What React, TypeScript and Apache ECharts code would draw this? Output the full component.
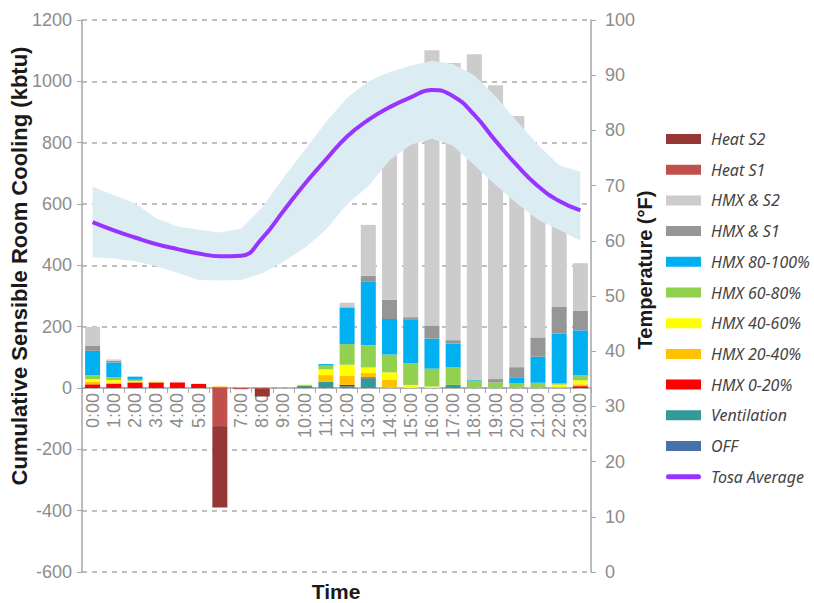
import React, { useEffect, useRef } from "react";
import * as echarts from "echarts";

const hours = [
  "0:00", "1:00", "2:00", "3:00", "4:00", "5:00", "6:00", "7:00",
  "8:00", "9:00", "10:00", "11:00", "12:00", "13:00", "14:00", "15:00",
  "16:00", "17:00", "18:00", "19:00", "20:00", "21:00", "22:00", "23:00",
];

const offVals = [0, 0, 0, 0, 0, 0, 0, 0, 0, 0, 0, 0, 0, 0, 0, 0, 0, 0, 0, 0, 0, 0, 0, 0];
const ventVals = [0, 0, 0, 0, 0, 0, 0, 0, 0, 0, 7, 20, 6, 32, 0, 0, 0, 10, 0, 0, 0, 0, 0, 0];
const hmx0Vals = [12, 13, 18, 18, 18, 13, 2, 0, 0, 0, 0, 0, 4, 3, 0, 0, 0, 0, 0, 0, 0, 0, 0, 6];
const hmx20Vals = [8, 5, 2, 2, 0, 1, 3, 0, 0, 0, 3, 22, 30, 14, 26, 0, 0, 0, 0, 0, 0, 0, 3, 6];
const hmx40Vals = [9, 8, 3, 0, 0, 0, 0, 0, 0, 0, 1, 19, 36, 18, 25, 10, 5, 0, 0, 0, 0, 0, 8, 13];
const hmx60Vals = [13, 9, 4, 0, 0, 0, 0, 0, 0, 0, 0, 12, 67, 72, 58, 71, 58, 57, 24, 18, 15, 17, 5, 16];
const hmx80Vals = [79, 48, 10, 0, 0, 0, 0, 0, 0, 0, 0, 5, 120, 209, 116, 141, 98, 78, 2, 0, 20, 85, 161, 147];
const hmxS1Vals = [16, 6, 0, 0, 0, 0, 0, 0, 0, 0, 0, 0, 0, 18, 63, 9, 43, 11, 0, 11, 33, 63, 87, 63];
const hmxS2Vals = [62, 4, 0, 0, 0, 0, 0, 0, 0, 0, 0, 0, 15, 166, 549, 755, 897, 904, 1062, 958, 819, 600, 335, 156];
const heatS1Vals = [0, 0, 0, 0, 0, 0, -125, -4, -3, 0, 0, 0, 0, 0, 0, 0, 0, 0, 0, 0, 0, 0, 0, 0];
const heatS2Vals = [0, 0, 0, 0, 0, 0, -265, 0, -25, 0, 0, 0, 0, 0, 0, 0, 0, 0, 0, 0, 0, 0, 0, 0];

const tosaAvg = [63.4, 61.9, 60.6, 59.4, 58.5, 57.7, 57.2, 57.3, 60.5, 65.4, 70.3, 74.7, 78.9, 81.9, 84.2, 86.0, 87.3, 86.2, 82.8, 78.1, 73.7, 69.9, 67.2, 65.5];
const tosaHigh = [69.8, 68.3, 66.8, 64.1, 62.6, 62.0, 61.5, 62.2, 66.1, 71.4, 76.4, 81.5, 85.9, 88.9, 90.6, 91.7, 92.6, 92.0, 90.0, 86.2, 81.7, 77.4, 73.7, 72.5];
const tosaLow = [57.0, 56.8, 56.3, 55.4, 54.2, 52.9, 52.8, 52.9, 54.1, 56.2, 58.7, 62.0, 66.6, 69.9, 74.6, 77.4, 78.5, 77.2, 73.7, 70.1, 66.8, 63.8, 62.0, 60.0];

const barSeries = [
  { name: "OFF", data: offVals, color: "#4672a8" },
  { name: "Ventilation", data: ventVals, color: "#339999" },
  { name: "HMX 0-20%", data: hmx0Vals, color: "#ff0000" },
  { name: "HMX 20-40%", data: hmx20Vals, color: "#ffc000" },
  { name: "HMX 40-60%", data: hmx40Vals, color: "#ffff00" },
  { name: "HMX 60-80%", data: hmx60Vals, color: "#92d050" },
  { name: "HMX 80-100%", data: hmx80Vals, color: "#00b0f0" },
  { name: "HMX & S1", data: hmxS1Vals, color: "#969696" },
  { name: "HMX & S2", data: hmxS2Vals, color: "#cccccc" },
  { name: "Heat S1", data: heatS1Vals, color: "#c0504d" },
  { name: "Heat S2", data: heatS2Vals, color: "#953735" },
];

const legendOrder = [
  "Heat S2", "Heat S1", "HMX & S2", "HMX & S1", "HMX 80-100%", "HMX 60-80%",
  "HMX 40-60%", "HMX 20-40%", "HMX 0-20%", "Ventilation", "OFF",
];

export default function App() {
  const ref = useRef<HTMLDivElement>(null);
  useEffect(() => {
    if (!ref.current) return;
    const chart = echarts.init(ref.current, undefined, { renderer: "svg" });
    const axisFont = "Liberation Sans, Arial, sans-serif";
    const axisGray = "#a6a6a6";
    const labelGray = "#8c8c8c";
    const bandDiff = tosaHigh.map((v, i) => +(v - tosaLow[i]).toFixed(1));
    const gridTop = 20;
    const gridBottom = 31;
    const plotH = 603 - gridTop - gridBottom;
    const yMin = -600;
    const yMax = 1200;
    const zeroOffset = -((0 - yMin) / (yMax - yMin)) * plotH;
    const option: any = {
      animation: false,
      grid: {
        left: 82,
        right: 223,
        top: gridTop,
        bottom: gridBottom,
        containLabel: false,
        outerBoundsMode: "none",
      },
      legend: {
        orient: "vertical",
        left: 661,
        top: 126,
        itemWidth: 35,
        itemHeight: 10,
        itemGap: 14.7,
        selectedMode: false,
        textStyle: {
          fontFamily: "Noto Sans",
          fontStyle: "italic",
          fontSize: 16,
          color: "#444444",
          lineHeight: 15,
          padding: [0, 0, 0, 5],
        },
        data: [
          ...legendOrder.map((n) => ({ name: n, icon: "rect" })),
          {
            name: "Tosa Average",
            icon: "path://M2.5,0 L32.5,0 A2.5,2.5 0 0 1 32.5,5 L2.5,5 A2.5,2.5 0 0 1 2.5,0 Z",
          },
        ],
      },
      xAxis: {
        type: "category",
        data: hours,
        boundaryGap: true,
        position: "bottom",
        offset: zeroOffset,
        axisLine: { onZero: false, lineStyle: { color: axisGray, width: 1.5 } },
        axisTick: { show: true, length: 5, interval: 0, lineStyle: { color: axisGray } },
        axisLabel: {
          rotate: 90,
          interval: 0,
          color: labelGray,
          fontSize: 18,
          fontFamily: axisFont,
          margin: 5,
        },
      },
      yAxis: [
        {
          type: "value",
          min: yMin,
          max: yMax,
          interval: 200,
          axisLine: { show: true, lineStyle: { color: axisGray, width: 1.5 } },
          axisTick: { show: true, length: 5, lineStyle: { color: axisGray } },
          axisLabel: {
            color: labelGray,
            fontSize: 18,
            fontFamily: axisFont,
            margin: 10,
            formatter: (v: number) => String(v),
          },
          splitLine: { show: true, lineStyle: { color: "#aaaaaa", type: [5, 5], width: 1.5 } },
        },
        {
          type: "value",
          position: "right",
          min: 0,
          max: 100,
          interval: 10,
          axisLine: { show: true, lineStyle: { color: axisGray, width: 1.5 } },
          axisTick: { show: true, length: 5, lineStyle: { color: axisGray } },
          axisLabel: {
            color: labelGray,
            fontSize: 18,
            fontFamily: axisFont,
            margin: 14,
            formatter: (v: number) => String(v),
          },
          splitLine: { show: false },
        },
      ],
      series: [
        {
          name: "band-low",
          type: "line",
          yAxisIndex: 1,
          stack: "band",
          data: tosaLow,
          symbol: "none",
          lineStyle: { opacity: 0 },
          silent: true,
        },
        {
          name: "band-high",
          type: "line",
          yAxisIndex: 1,
          stack: "band",
          data: bandDiff,
          symbol: "none",
          lineStyle: { opacity: 0 },
          areaStyle: { color: "#dbedf3", opacity: 1 },
          silent: true,
        },
        ...barSeries.map((s) => ({
          name: s.name,
          type: "bar",
          stack: "total",
          yAxisIndex: 0,
          barWidth: 15,
          data: s.data,
          itemStyle: { color: s.color },
        })),
        {
          name: "Tosa Average",
          type: "line",
          yAxisIndex: 1,
          data: tosaAvg,
          smooth: true,
          symbol: "none",
          itemStyle: { color: "#9933ff" },
          lineStyle: { color: "#9933ff", width: 4 },
          z: 5,
        },
      ],
      graphic: [
        {
          type: "text",
          x: 19,
          y: 266,
          rotation: Math.PI / 2,
          style: {
            text: "Cumulative Sensible Room Cooling (kbtu)",
            fill: "#1a1a1a",
            font: "bold 22px Liberation Sans, Arial, sans-serif",
            textAlign: "center",
            textVerticalAlign: "middle",
          },
        },
        {
          type: "text",
          x: 645,
          y: 270,
          rotation: Math.PI / 2,
          style: {
            text: "Temperature (°F)",
            fill: "#1a1a1a",
            font: "bold 20px Liberation Sans, Arial, sans-serif",
            textAlign: "center",
            textVerticalAlign: "middle",
          },
        },
        {
          type: "text",
          x: 336,
          y: 591,
          style: {
            text: "Time",
            fill: "#1a1a1a",
            font: "bold 21px Liberation Sans, Arial, sans-serif",
            textAlign: "center",
            textVerticalAlign: "middle",
          },
        },
      ],
    };
    chart.setOption(option);
    return () => chart.dispose();
  }, []);
  return (
    <div
      ref={ref}
      style={{ position: "fixed", left: 0, top: 0, width: 814, height: 603, background: "#ffffff" }}
    />
  );
}
